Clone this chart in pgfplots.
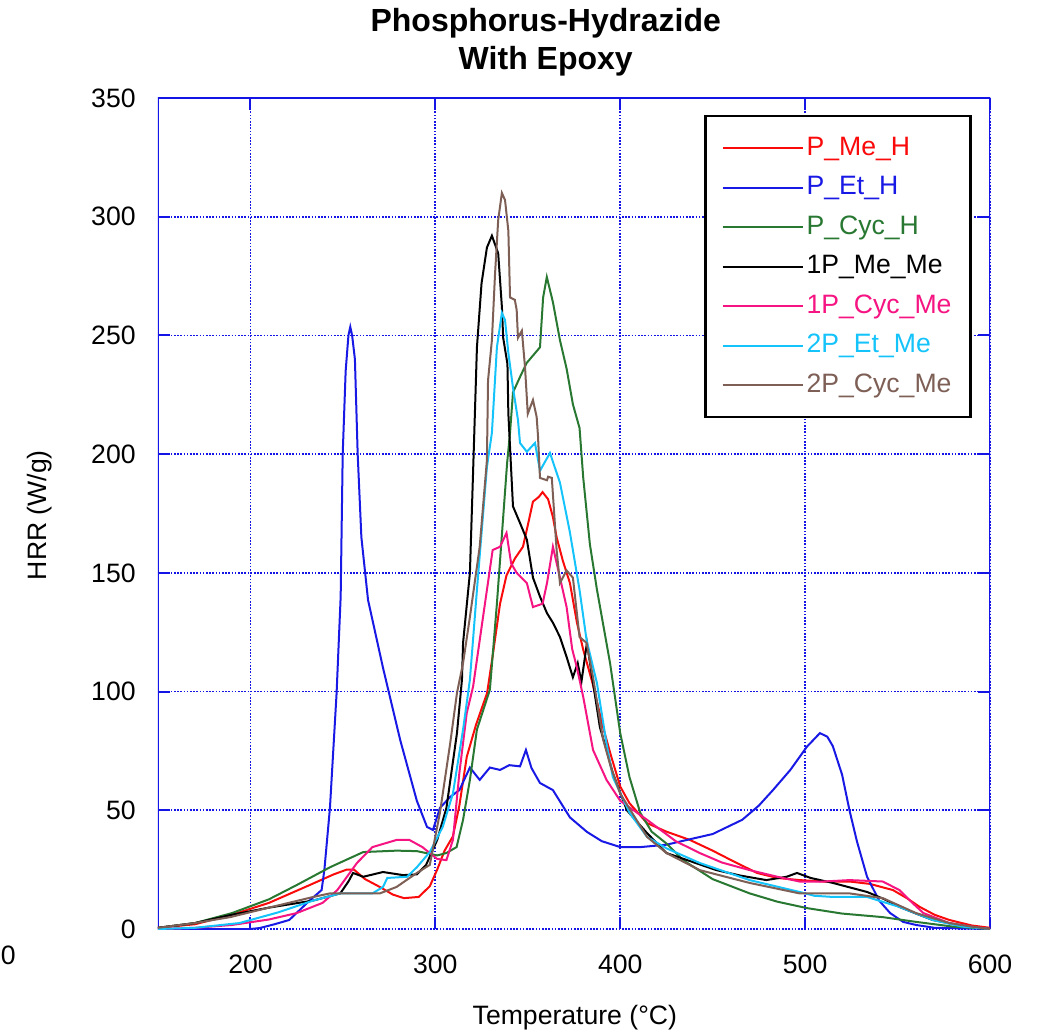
\documentclass[border=0pt]{standalone}
\usepackage{pgfplots}
\pgfplotsset{compat=1.18}
\usepackage{fontspec}
\setmainfont{Liberation Sans}
\definecolor{axisblue}{RGB}{20,20,230}
\definecolor{cRed}{RGB}{250,10,10}
\definecolor{cBlue}{RGB}{25,25,230}
\definecolor{cGreen}{RGB}{40,120,50}
\definecolor{cBlack}{RGB}{0,0,0}
\definecolor{cPink}{RGB}{245,20,130}
\definecolor{cCyan}{RGB}{20,195,250}
\definecolor{cBrown}{RGB}{125,95,85}
\begin{document}
\begin{tikzpicture}
\useasboundingbox (-79pt,-52pt) rectangle (440pt,464.5pt);
\node[anchor=west,inner sep=0pt,font=\fontsize{13.3}{16}\selectfont] at (-78.7pt,-13pt) {0};
\begin{axis}[
  at={(0,0)}, anchor=south west,
  scale only axis, width=416pt, height=415.5pt,
  xmin=150, xmax=600, ymin=0, ymax=350,
  xtick={200,300,400,500,600},
  ytick={0,50,100,150,200,250,300,350},
  tick align=inside, major tick length=6pt,
  every tick/.style={axisblue, line width=1pt},
  axis line style={draw=none},
  grid=major,
  major grid style={axisblue, line width=0.9pt, dash pattern=on 0.8pt off 0.8pt},
  tick label style={font=\fontsize{13.3}{16}\selectfont, inner sep=0pt},
  /pgf/number format/assume math mode=true,
  xticklabel shift=13pt,
  yticklabel shift=11pt,
  xlabel={Temperature (°C)},
  ylabel={HRR (W/g)},
  label style={font=\fontsize{13.3}{16}\selectfont},
  xlabel style={at={([yshift=-44.5pt]axis description cs:0.501,0)}, anchor=center},
  ylabel style={at={([xshift=-59pt]axis description cs:0,0.498)}, anchor=center, rotate=0},
  title={Phosphorus-Hydrazide\\With Epoxy},
  title style={at={([yshift=4.5pt]axis description cs:0.466,1)}, anchor=south, align=center, inner sep=0pt,
    font=\bfseries\fontsize{16}{19}\selectfont},
  legend style={at={(0.978,0.9795)}, anchor=north east, draw=black, line width=1.2pt,
    inner sep=8pt, row sep=3.75pt, column sep=0pt,
    font=\fontsize{13.3}{16}\selectfont,
    nodes={inner sep=1.5pt, text height=10pt, text depth=3pt}},
  legend cell align=left,
  legend image code/.code={\draw[#1, line width=1pt] (0pt,0pt) -- (40pt,0pt);},
  every axis plot/.append style={line width=1pt},
]
\draw[axisblue, line width=1pt] (rel axis cs:0,0) -- (rel axis cs:0,1) -- (rel axis cs:1,1) -- (rel axis cs:1,0);
% P_Me_H
\addplot[cRed] coordinates {
(150,0.5)(170,2)(190,6)(210,11)(232,18.5)(245,23)(252,25)(256,25)(262,21)(270,17.7)(277,14.5)(283,13)(291,13.5)(297,18)(301,25)(305,33)(309.5,39)(313,52)(317,72.5)(322,86)(328,99.4)(331,115)(335,137)(338.5,149)(343,156)(347.4,161)(350,170)(352.8,180)(356,182)(358,184)(361,181)(363.6,173.5)(365.6,165)(369,155)(372.8,145.7)(376.6,129)(380,117.6)(385,103.6)(390.7,85)(395,73)(400,60)(405,53)(414.5,44.6)(425,41)(437.7,37.5)(450,33)(460,29)(474,23.6)(485,21.5)(497,20.6)(510,20)(524,20)(535,19)(547.5,16.4)(555,13)(562,9.3)(570,6)(578,3.8)(590,1.5)(600,0.5)
};
\addlegendentry{\textcolor{cRed}{P\_Me\_H}}
% P_Et_H
\addplot[cBlue] coordinates {
(150,0)(200,0)(205,0.4)(213,2)(221,3.8)(232,12)(238.5,16.4)(240,25)(243,51)(246.6,99.4)(248.8,140)(249.9,200)(251.5,235)(253,250)(254,253.6)(255,250)(256.5,240)(258,200)(260,165)(263.6,138.6)(271.7,110)(281,79.6)(290,54)(295.5,43)(298.7,41.7)(302.5,51)(308,55.6)(313,58.5)(318.7,68)(324,62.8)(329.5,68)(335,67)(340,69)(345.8,68.5)(349,75.4)(352,67.8)(356.6,61.5)(363.6,58.5)(372.8,47)(382,40.9)(390,37)(400,34.5)(411,34.5)(425,35.5)(436,37.5)(450,40)(466,46)(475,52)(482.6,58.5)(492,67)(501,76.8)(508,82.5)(512,81)(515,77)(520,65)(524,50)(528,37)(533.5,22)(540,12)(546,6.7)(553,3)(560,1.7)(570,0.5)(600,0)
};
\addlegendentry{\textcolor{cBlue}{P\_Et\_H}}
% P_Cyc_H
\addplot[cGreen] coordinates {
(150,0.5)(170,2.5)(190,6.7)(210,12.5)(225,18.5)(243,26)(261,32.4)(279,33)(290,32.8)(301,31)(306,32)(311.5,34.5)(315,46)(318.7,62.8)(322.5,84)(329.5,100.8)(333.3,137)(338.8,196)(340.4,209)(342,226)(345.8,232.5)(349.4,238.4)(356.6,245)(358.3,266)(360.3,274.6)(363.6,264)(367.4,248)(371,236)(374.4,221)(378,211)(380,190)(383.6,162)(387.4,143)(394.5,112)(400,82.5)(405,64)(410.8,49)(417,41)(425,36)(434,29)(450,21)(470,15)(485,11.5)(501,8.8)(520,6.5)(542,5)(560,3)(580,1)(600,0)
};
\addlegendentry{\textcolor{cGreen}{P\_Cyc\_H}}
% 1P_Me_Me
\addplot[cBlack] coordinates {
(150,0.5)(170,2.5)(190,6)(210,9)(234,12)(248.6,15)(253,20)(255.5,23.6)(261,22)(271.7,24)(282.5,22.7)(290,23)(295,27)(301,37.5)(306,51)(311.7,82.5)(314.4,105)(315,120.5)(318.7,150)(320.4,192)(322.5,245)(325,272)(327.9,287)(330.6,292)(334,284.6)(336,262)(336.7,249)(339,238)(339.5,217)(342,178)(345.8,171)(349.5,164)(352.8,148)(356.6,140)(360.4,133)(363.6,129)(367.4,123)(371,114.6)(374.4,106)(377,112)(379,104)(382,120.5)(385.3,103.6)(389,85)(392.6,75.4)(396,65.7)(403.6,50)(414.5,40.4)(425,32)(440,28)(452,24.8)(465,22.5)(479,20.6)(490,22)(495.6,23.6)(503,21.5)(515,19.4)(533.5,15.6)(543,12.5)(551,9.3)(560,6.5)(569,3.8)(587.5,1)(600,0)
};
\addlegendentry{\textcolor{cBlack}{1P\_Me\_Me}}
% 1P_Cyc_Me
\addplot[cPink] coordinates {
(150,0)(170,0.5)(190,1.7)(210,4)(225,6.7)(239,11)(247,16.4)(257.6,27.8)(266,34.5)(279,37.5)(286,37.5)(293,34.5)(301,29.5)(306,29)(309.5,37.5)(313,65.7)(317,91)(320.4,102)(325.8,131.4)(331,159.6)(335,161)(338.5,166.8)(341,154)(344,150)(349.5,145.7)(352.8,135.6)(358,137)(360.4,145.7)(363.6,161)(367.4,148)(371,135.6)(374,118)(376.6,110)(380,97.7)(385.3,75.4)(392.6,62.8)(400,54)(414.5,46)(430,37)(443,32)(455,28)(470,24.8)(485,22)(497,20)(510,20)(524,20.6)(542,20)(551,16.4)(558,11)(564,6.7)(578,2.5)(590,1)(600,0)
};
\addlegendentry{\textcolor{cPink}{1P\_Cyc\_Me}}
% 2P_Et_Me
\addplot[cCyan] coordinates {
(150,0)(170,0.5)(194,2.5)(215,7)(234,12)(248.6,15)(266,15)(271.7,17.7)(274,21.5)(284.7,22)(290,26)(297,32.4)(304,43)(309.5,57)(315,84)(318.7,105)(322.5,142.8)(327.9,194.6)(330.6,209)(333.3,245)(336,259.5)(337.7,256.5)(339.5,242.6)(342,228)(344.7,214.4)(345.8,204.7)(349.5,201)(353.9,204.7)(356.6,193)(362,200.5)(367.4,188)(372.8,167)(378,142.8)(381.8,121.7)(387.4,103.6)(392.6,78)(396,64)(405,49)(414.5,38.8)(425,34)(443,27.8)(470,20.6)(497,15.6)(505,14)(515,13.5)(533.5,13.5)(551,9.3)(569,3.8)(585,1)(600,0)
};
\addlegendentry{\textcolor{cCyan}{2P\_Et\_Me}}
% 2P_Cyc_Me
\addplot[cBrown] coordinates {
(150,0.5)(170,2.5)(189,5)(210,9)(234,13.5)(243,15)(270,15)(279,17.7)(290,23.6)(297,27)(302.5,49)(308,78)(311.7,99.4)(315,112)(318.7,131.4)(324,161)(327.9,197.5)(328.5,231)(330.6,248)(332.3,276)(334,298.6)(336,310)(337.7,307)(339.5,294)(340.4,266)(343,265)(344,260.7)(344.7,249)(346.8,252)(348.5,236.7)(350,217)(352.8,222.8)(354.8,215.7)(355.5,208)(356.6,190)(360.4,189)(361,190.5)(363,190)(365.6,159.6)(367.4,145.7)(371,151)(374.4,148)(378,123)(381.8,120.5)(385.3,106)(390.7,80)(395,68)(400,57)(414.5,38.8)(425,32)(443,24.8)(470,19.4)(497,15)(524,15)(542,13)(560,6.7)(578,2.5)(590,1)(600,0)
};
\addlegendentry{\textcolor{cBrown}{2P\_Cyc\_Me}}
\end{axis}
\end{tikzpicture}
\end{document}
